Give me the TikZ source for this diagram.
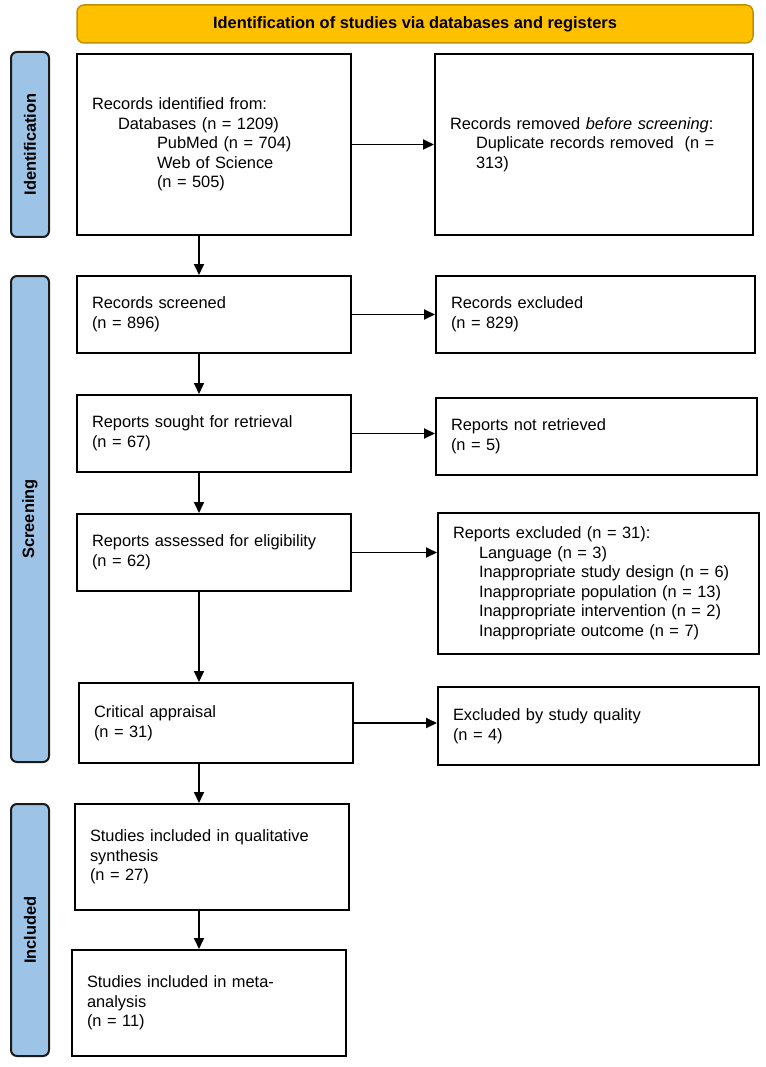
\documentclass[tikz,border=0pt]{standalone}
\usepackage{fontspec}
\setmainfont{Liberation Sans}
\usetikzlibrary{arrows.meta,calc}
\definecolor{hdrfill}{HTML}{FFC000}
\definecolor{hdrdraw}{HTML}{BF9000}
\definecolor{barfill}{HTML}{9DC3E6}
\definecolor{bardraw}{HTML}{1A1A1A}
\begin{document}
\begin{tikzpicture}[x=1pt,y=-1pt,
  pbox/.style={draw=black, line width=2pt, fill=white, align=left, inner xsep=15pt, inner ysep=0pt, font=\fontsize{16.4}{19.5}\selectfont},
  phase/.style={draw=bardraw, fill=barfill, line width=2pt, rounded corners=6pt, rotate=90, minimum height=38pt, inner sep=0pt, font=\bfseries\fontsize{16.4}{19.5}\selectfont},
  hdr/.style={draw=hdrdraw, fill=hdrfill, line width=1.5pt, rounded corners=7pt, minimum width=676pt, minimum height=38pt, inner sep=0pt, font=\bfseries\fontsize{16.4}{19.5}\selectfont},
  arr/.style={line width=1.8pt, -{Triangle[length=11pt,width=10pt]}}]
\useasboundingbox (0,0) rectangle (765,1067);
\fill[white] (0,0) rectangle (765,1067);

\node[hdr] (head) at (415,24) {Identification of studies via databases and registers};

\node[phase, minimum width=185pt] (ph1) at (30,144.5) {Identification};
\node[phase, minimum width=486pt] (ph2) at (30,519) {Screening};
\node[phase, minimum width=252pt] (ph3) at (30,930) {Included};

\node[pbox, minimum height=181pt, text width=244pt] (id) at (214,144.5)
 {Records identified from:\\\hspace*{26pt}Databases (n = 1209)\\\hspace*{65pt}PubMed (n = 704)\\\hspace*{65pt}Web of Science\\\hspace*{65pt}(n = 505)};
\node[pbox, minimum height=181pt, text width=288pt] (rem) at (594,144.5)
 {Records removed \textit{before screening}:\\\hspace*{26pt}Duplicate records removed\ \ (n =\\\hspace*{26pt}313)};

\node[pbox, minimum height=77pt, text width=244pt] (scr) at (214,314.5) {Records screened\\(n = 896)};
\node[pbox, minimum height=77pt, text width=289pt] (exc) at (595.5,314.5) {Records excluded\\(n = 829)};

\node[pbox, minimum height=77pt, text width=244pt] (sou) at (214,433.5) {Reports sought for retrieval\\(n = 67)};
\node[pbox, minimum height=77pt, text width=291pt] (nrt) at (596.5,436.5) {Reports not retrieved\\(n = 5)};

\node[pbox, minimum height=77pt, text width=244pt] (ass) at (214,552.5) {Reports assessed for eligibility\\(n = 62)};
\node[pbox, minimum height=141pt, text width=291pt] (rex) at (598.5,583.5)
 {Reports excluded (n = 31):\\\hspace*{26pt}Language (n = 3)\\\hspace*{26pt}Inappropriate study design (n = 6)\\\hspace*{26pt}Inappropriate population (n = 13)\\\hspace*{26pt}Inappropriate intervention (n = 2)\\\hspace*{26pt}Inappropriate outcome (n = 7)};

\node[pbox, minimum height=80pt, text width=244pt] (cri) at (216,723) {Critical appraisal\\(n = 31)};
\node[pbox, minimum height=78pt, text width=291pt] (qua) at (598.5,726) {Excluded by study quality\\(n = 4)};

\node[pbox, minimum height=106pt, text width=244pt] (qal) at (212,857) {Studies included in qualitative\\synthesis\\(n = 27)};
\node[pbox, minimum height=106pt, text width=244pt] (met) at (209,1003) {Studies included in meta-\\analysis\\(n = 11)\\[8pt]};

\coordinate (ax) at (199,0);

\draw[arr] (id.east) -- (rem.west);
\draw[arr] (id.south -| ax) -- (scr.north -| ax);
\draw[arr] (scr.east) -- (scr.east -| exc.west);
\draw[arr] (scr.south -| ax) -- (sou.north -| ax);
\draw[arr] (sou.east) -- (sou.east -| nrt.west);
\draw[arr] (sou.south -| ax) -- (ass.north -| ax);
\draw[arr] (ass.east) -- (ass.east -| rex.west);
\draw[arr] (ass.south -| ax) -- (cri.north -| ax);
\draw[arr] (cri.east) -- (cri.east -| qua.west);
\draw[arr] (cri.south -| ax) -- (qal.north -| ax);
\draw[arr] (qal.south -| ax) -- (met.north -| ax);
\end{tikzpicture}
\end{document}
